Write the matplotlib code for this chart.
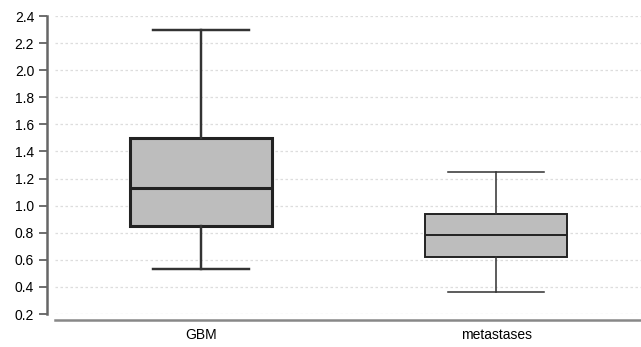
import matplotlib
matplotlib.use("Agg")
import matplotlib.pyplot as plt

plt.rcParams['font.family'] = ['Liberation Sans', 'DejaVu Sans']

categories = ["GBM", "metastases"]
whislo = [0.53, 0.36]
q1 = [0.85, 0.62]
med = [1.13, 0.78]
q3 = [1.50, 0.94]
whishi = [2.30, 1.25]
yticks = [0.2, 0.4, 0.6, 0.8, 1.0, 1.2, 1.4, 1.6, 1.8, 2.0, 2.2, 2.4]

fig = plt.figure(figsize=(6.41, 3.47), dpi=100)
ax = fig.add_axes([55/641, 33/347, 1 - 55/641, (314-16)/347])

stats = []
for i, c in enumerate(categories):
    stats.append(dict(label=c, whislo=whislo[i], q1=q1[i], med=med[i], q3=q3[i], whishi=whishi[i], fliers=[]))

lws = [2.2, 1.4]
for i, s in enumerate(stats):
    ax.bxp([s], positions=[i + 1], widths=0.48, showfliers=False, patch_artist=True,
           boxprops=dict(facecolor='#bdbdbd', edgecolor='#222222', linewidth=lws[i]),
           medianprops=dict(color='#222222', linewidth=lws[i]),
           whiskerprops=dict(color='#333333', linewidth=lws[i] * 0.8),
           capprops=dict(color='#333333', linewidth=lws[i] * 0.8),
           capwidths=0.325, zorder=3)

ax.set_xlim(0.505, 2.49)
ax.set_ylim(0.2, 2.4)
ax.set_yticks(yticks)
ax.set_yticklabels([f"{v:.1f}" for v in yticks], fontsize=13, color='#1a1a1a')
ax.set_xticks([1, 2])
ax.set_xticklabels(categories, fontsize=13, color='#1a1a1a')
ax.tick_params(axis='x', length=0, pad=6)
ax.tick_params(axis='y', direction='out', length=6, width=1.2, color='#555555', pad=3)

ax.grid(axis='y', linestyle=(0, (2, 2)), color='#dddddd', linewidth=0.9, zorder=0)
ax.set_axisbelow(True)

for sp in ['top', 'right']:
    ax.spines[sp].set_visible(False)
ax.spines['left'].set_color('#666666')
ax.spines['left'].set_linewidth(1.8)
ax.spines['left'].set_position(('outward', 6))
ax.spines['bottom'].set_color('#888888')
ax.spines['bottom'].set_linewidth(1.8)
ax.spines['bottom'].set_position(('outward', 4))

fig.savefig("out.png", dpi=100)
